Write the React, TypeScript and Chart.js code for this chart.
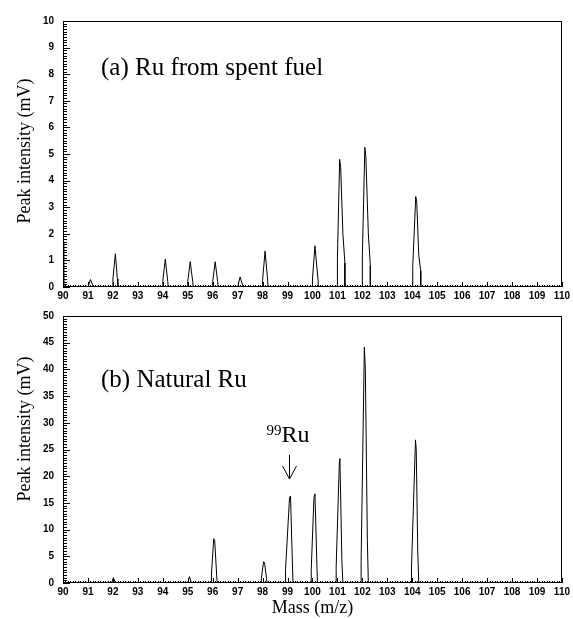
import React, { useEffect, useRef } from "react";
import { Chart, registerables } from "chart.js";

Chart.register(...registerables);

// ---------- data ----------
const MASS_TICKS = [90, 91, 92, 93, 94, 95, 96, 97, 98, 99, 100, 101, 102, 103, 104, 105, 106, 107, 108, 109, 110];
const Y_TICKS_A = [0, 1, 2, 3, 4, 5, 6, 7, 8, 9, 10];
const Y_TICKS_B = [0, 5, 10, 15, 20, 25, 30, 35, 40, 45, 50];

// (a) Ru from spent fuel
const massA = [
  90.0, 90.03, 91.0, 91.1, 91.22,
  92.0, 92.0, 92.1, 92.18, 92.2,
  94.0, 94.0, 94.1, 94.2, 94.22,
  95.0, 95.0, 95.1, 95.2, 95.22,
  96.0, 96.0, 96.1, 96.2, 96.22,
  97.0, 97.1, 97.22,
  98.0, 98.0, 98.1, 98.2, 98.22,
  100.0, 100.0, 100.1, 100.22, 100.24,
  101.0, 101.0, 101.09, 101.13, 101.22, 101.3, 101.3,
  102.0, 102.0, 102.1, 102.14, 102.24, 102.32, 102.32,
  104.02, 104.02, 104.14, 104.18, 104.26, 104.34, 104.34,
  110.0,
];
const intensityA = [
  1.7, 0, 0, 0.28, 0,
  0, 0.3, 1.25, 0.3, 0,
  0, 0.22, 1.05, 0.2, 0,
  0, 0.2, 0.95, 0.2, 0,
  0, 0.2, 0.95, 0.2, 0,
  0, 0.38, 0,
  0, 0.25, 1.35, 0.3, 0,
  0, 0.3, 1.55, 0.3, 0,
  0, 1.1, 4.8, 4.5, 2.0, 0.9, 0,
  0, 1.2, 5.25, 4.9, 2.0, 0.8, 0,
  0, 0.8, 3.4, 3.2, 1.2, 0.6, 0,
  0,
];

// (b) Natural Ru
const massB = [
  90.0, 91.95, 92.02, 92.1,
  95.0, 95.07, 95.15,
  95.95, 95.95, 96.04, 96.08, 96.16, 96.18,
  97.95, 97.95, 98.04, 98.08, 98.16, 98.18,
  98.92, 98.92, 99.08, 99.12, 99.2, 99.22,
  99.95, 99.95, 100.06, 100.1, 100.18, 100.2,
  100.95, 100.95, 101.08, 101.1, 101.18, 101.22,
  101.95, 101.95, 102.08, 102.12, 102.2, 102.24,
  103.97, 103.97, 104.13, 104.16, 104.22, 104.26,
  110.0,
];
const intensityB = [
  0, 0, 1.0, 0,
  0, 1.2, 0,
  0, 1.5, 8.3, 8.0, 1.5, 0,
  0, 0.8, 4.0, 3.8, 0.8, 0,
  0, 2.5, 16.0, 16.3, 3.0, 0,
  0, 2.5, 16.0, 16.7, 3.0, 0,
  0, 3.0, 23.0, 23.3, 4.0, 0,
  0, 4.0, 44.2, 40.0, 8.0, 0,
  0, 3.0, 26.8, 25.0, 6.0, 0,
  0,
];

// ---------- styling helpers ----------
const TICK_FONT = { family: "'Liberation Sans Narrow', 'Liberation Sans', Arial, sans-serif", size: 10, weight: "bold" as const };
const SERIF = "'Liberation Serif', 'Times New Roman', serif";

function makeFramePlugin(cfg: any) {
  return {
    id: "frameTicks",
    afterDraw(chart: any) {
      const ctx: CanvasRenderingContext2D = chart.ctx;
      const area = chart.chartArea;
      const xs = chart.scales["x"];
      const ys = chart.scales["y"];
      ctx.save();
      ctx.fillStyle = "#000";
      const L = Math.round(area.left);
      const B = Math.round(area.bottom);
      const yCount = Math.round((cfg.yMax - cfg.yMin) / cfg.yMinor);
      for (let k = 0; k <= yCount; k++) {
        const val = cfg.yMin + k * cfg.yMinor;
        const py = Math.round(ys.getPixelForValue(val));
        const tl = k % cfg.yMajorEvery === 0 ? 7 : 4;
        ctx.fillRect(L, py, tl, 1);
      }
      const xCount = Math.round((cfg.xMax - cfg.xMin) / cfg.xMinor);
      for (let k = 0; k <= xCount; k++) {
        const val = cfg.xMin + k * cfg.xMinor;
        const px = Math.round(xs.getPixelForValue(val));
        const tl = k % cfg.xMajorEvery === 0 ? 5 : 2;
        ctx.fillRect(px, B - tl, 1, tl);
      }

      ctx.strokeStyle = "#000";
      ctx.lineWidth = 1;
      ctx.strokeRect(L + 0.5, Math.round(area.top) + 0.5, Math.round(area.width) - 1, Math.round(area.height) - 1);

      ctx.textBaseline = "alphabetic";
      ctx.textAlign = "left";
      ctx.font = `25px ${SERIF}`;
      ctx.fillText(cfg.title, area.left + 38, area.top + cfg.titleDy);

      ctx.save();
      ctx.translate(25, cfg.yTitleCenter);
      ctx.rotate(-Math.PI / 2);
      ctx.textAlign = "center";
      ctx.textBaseline = "middle";
      ctx.font = `18px ${SERIF}`;
      ctx.fillText("Peak intensity (mV)", 0, 0);
      ctx.restore();

      if (cfg.marker) {
        const mx = Math.round(xs.getPixelForValue(cfg.marker.mass)) + 0.5;
        ctx.font = `15px ${SERIF}`;
        ctx.textAlign = "right";
        ctx.fillText("99", mx - 8, cfg.marker.textY - 7);
        ctx.font = `24px ${SERIF}`;
        ctx.textAlign = "left";
        ctx.fillText("Ru", mx - 8, cfg.marker.textY);
        ctx.beginPath();
        ctx.moveTo(mx, cfg.marker.textY + 13);
        ctx.lineTo(mx, cfg.marker.textY + 37);
        ctx.moveTo(mx - 7, cfg.marker.textY + 24);
        ctx.lineTo(mx, cfg.marker.textY + 37);
        ctx.lineTo(mx + 7, cfg.marker.textY + 24);
        ctx.stroke();
      }
      ctx.restore();
    },
  };
}

function makeConfig(mass: number[], intensity: number[], yTicks: number[], p: any): any {
  return {
    type: "line",
    data: {
      datasets: [
        {
          data: mass.map((m, i) => ({ x: m, y: intensity[i] })),
          borderColor: "#000",
          borderWidth: 1,
          pointRadius: 0,
          tension: 0,
          fill: false,
        },
      ],
    },
    options: {
      animation: false,
      responsive: false,
      maintainAspectRatio: false,
      devicePixelRatio: 1,
      layout: { padding: { left: 0, right: 4, top: p.padTop, bottom: 0 } },
      plugins: {
        legend: { display: false },
        tooltip: { enabled: false },
      },
      scales: {
        x: {
          type: "linear",
          min: MASS_TICKS[0],
          max: MASS_TICKS[MASS_TICKS.length - 1],
          grid: { display: false, drawTicks: false },
          border: { display: false },
          afterBuildTicks: (s: any) => {
            s.ticks = MASS_TICKS.map((v) => ({ value: v }));
          },
          afterFit: (s: any) => {
            s.height = p.xHeight;
          },
          ticks: {
            autoSkip: false,
            maxRotation: 0,
            padding: 3,
            color: "#000",
            font: TICK_FONT,
            callback: (v: any) => String(v),
          },
          title: p.xTitle
            ? { display: true, text: "Mass (m/z)", color: "#000", font: { family: SERIF, size: 18 }, padding: { top: 0, bottom: 0 } }
            : { display: false },
        },
        y: {
          type: "linear",
          min: yTicks[0],
          max: yTicks[yTicks.length - 1],
          grid: { display: false, drawTicks: false },
          border: { display: false },
          afterBuildTicks: (s: any) => {
            s.ticks = yTicks.map((v) => ({ value: v }));
          },
          afterFit: (s: any) => {
            s.width = 63;
          },
          ticks: {
            autoSkip: false,
            padding: 9,
            color: "#000",
            font: TICK_FONT,
            callback: (v: any) => String(v),
          },
        },
      },
    },
    plugins: [makeFramePlugin(p.frame)],
  };
}

export default function App() {
  const topRef = useRef<HTMLCanvasElement>(null);
  const botRef = useRef<HTMLCanvasElement>(null);

  useEffect(() => {
    const c1 = new Chart(
      topRef.current as HTMLCanvasElement,
      makeConfig(massA, intensityA, Y_TICKS_A, {
        padTop: 21,
        xHeight: 18,
        xTitle: false,
        frame: {
          yMin: 0, yMax: 10, yMinor: 0.1, yMajorEvery: 10,
          xMin: 90, xMax: 110, xMinor: 0.1, xMajorEvery: 10,
          title: "(a) Ru from spent fuel",
          titleDy: 54,
          yTitleCenter: 151,
        },
      })
    );
    const c2 = new Chart(
      botRef.current as HTMLCanvasElement,
      makeConfig(massB, intensityB, Y_TICKS_B, {
        padTop: 16,
        xHeight: 36,
        xTitle: true,
        frame: {
          yMin: 0, yMax: 50, yMinor: 0.5, yMajorEvery: 10,
          xMin: 90, xMax: 110, xMinor: 0.1, xMajorEvery: 10,
          title: "(b) Natural Ru",
          titleDy: 71,
          yTitleCenter: 129,
          marker: { mass: 99.05, textY: 142 },
        },
      })
    );
    return () => {
      c1.destroy();
      c2.destroy();
    };
  }, []);

  return (
    <div style={{ position: "absolute", left: 0, top: 0, width: 573, height: 619, background: "#fff" }}>
      <canvas ref={topRef} width={573} height={305} style={{ position: "absolute", left: 0, top: 0, width: 573, height: 305 }} />
      <canvas ref={botRef} width={573} height={319} style={{ position: "absolute", left: 0, top: 300, width: 573, height: 319 }} />
    </div>
  );
}
